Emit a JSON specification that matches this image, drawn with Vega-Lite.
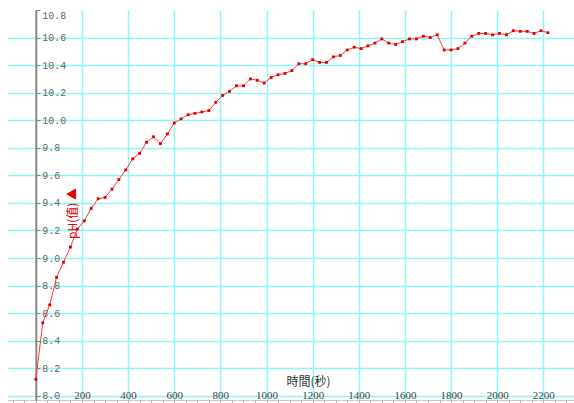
{
  "$schema": "https://vega.github.io/schema/vega-lite/v6.json",
  "width": 567,
  "height": 390,
  "autosize": {"type": "none"},
  "padding": {"left": 7, "top": 10, "right": 0, "bottom": 3},
  "background": "white",
  "config": {"view": {"stroke": null}},
  "data": {"values": [
    {"t": 0, "ph": 8.12}, {"t": 30, "ph": 8.53}, {"t": 60, "ph": 8.66}, {"t": 90, "ph": 8.86},
    {"t": 120, "ph": 8.97}, {"t": 150, "ph": 9.08}, {"t": 180, "ph": 9.21}, {"t": 210, "ph": 9.27},
    {"t": 240, "ph": 9.36}, {"t": 270, "ph": 9.43}, {"t": 300, "ph": 9.44}, {"t": 330, "ph": 9.50},
    {"t": 360, "ph": 9.57}, {"t": 390, "ph": 9.64}, {"t": 420, "ph": 9.72}, {"t": 450, "ph": 9.76},
    {"t": 480, "ph": 9.84}, {"t": 510, "ph": 9.88}, {"t": 540, "ph": 9.83}, {"t": 570, "ph": 9.90},
    {"t": 600, "ph": 9.98}, {"t": 630, "ph": 10.01}, {"t": 660, "ph": 10.04}, {"t": 690, "ph": 10.05},
    {"t": 720, "ph": 10.06}, {"t": 750, "ph": 10.07}, {"t": 780, "ph": 10.13}, {"t": 810, "ph": 10.18},
    {"t": 840, "ph": 10.21}, {"t": 870, "ph": 10.25}, {"t": 900, "ph": 10.25}, {"t": 930, "ph": 10.30},
    {"t": 960, "ph": 10.29}, {"t": 990, "ph": 10.27}, {"t": 1020, "ph": 10.31}, {"t": 1050, "ph": 10.33},
    {"t": 1080, "ph": 10.34}, {"t": 1110, "ph": 10.36}, {"t": 1140, "ph": 10.41}, {"t": 1170, "ph": 10.41},
    {"t": 1200, "ph": 10.44}, {"t": 1230, "ph": 10.42}, {"t": 1260, "ph": 10.42}, {"t": 1290, "ph": 10.46},
    {"t": 1320, "ph": 10.47}, {"t": 1350, "ph": 10.51}, {"t": 1380, "ph": 10.53}, {"t": 1410, "ph": 10.52},
    {"t": 1440, "ph": 10.54}, {"t": 1470, "ph": 10.56}, {"t": 1500, "ph": 10.59}, {"t": 1530, "ph": 10.56},
    {"t": 1560, "ph": 10.55}, {"t": 1590, "ph": 10.57}, {"t": 1620, "ph": 10.59}, {"t": 1650, "ph": 10.59},
    {"t": 1680, "ph": 10.61}, {"t": 1710, "ph": 10.60}, {"t": 1740, "ph": 10.62}, {"t": 1770, "ph": 10.51},
    {"t": 1800, "ph": 10.51}, {"t": 1830, "ph": 10.52}, {"t": 1860, "ph": 10.56}, {"t": 1890, "ph": 10.61},
    {"t": 1920, "ph": 10.63}, {"t": 1950, "ph": 10.63}, {"t": 1980, "ph": 10.62}, {"t": 2010, "ph": 10.63},
    {"t": 2040, "ph": 10.62}, {"t": 2070, "ph": 10.65}, {"t": 2100, "ph": 10.645}, {"t": 2130, "ph": 10.645},
    {"t": 2160, "ph": 10.63}, {"t": 2190, "ph": 10.65}, {"t": 2220, "ph": 10.635}
  ]},
  "encoding": {
    "x": {
      "field": "t", "type": "quantitative",
      "scale": {"domain": [-125, 2333], "nice": false, "zero": false},
      "axis": {
        "orient": "bottom",
        "values": [-100,-50,0,50,100,150,200,250,300,350,400,450,500,550,600,650,700,750,800,850,900,950,1000,1050,1100,1150,1200,1250,1300,1350,1400,1450,1500,1550,1600,1650,1700,1750,1800,1850,1900,1950,2000,2050,2100,2150,2200,2250,2300],
        "format": "d",
        "grid": true,
        "gridColor": "#8ef6f6",
        "gridWidth": 1.5,
        "gridOpacity": {"condition": {"test": "datum.value % 200 === 0 && datum.value > 0", "value": 1}, "value": 0},
        "domainColor": "#c8c8c8",
        "domainWidth": 1,
        "tickColor": "#aaaaaa",
        "tickSize": 3,
        "labelExpr": "datum.value % 200 === 0 && datum.value > 0 ? datum.label : ''",
        "labelBaseline": "bottom",
        "labelPadding": -3,
        "labelFont": "Liberation Serif",
        "labelFontSize": 11,
        "labelColor": "#444444",
        "labelFlush": false,
        "labelOverlap": false,
        "title": "時間(秒)",
        "titleFont": "Noto Sans CJK TC",
        "titleFontSize": 12,
        "titleFontWeight": "normal",
        "titleColor": "#333333",
        "titleX": 301,
        "titleY": -19,
        "titleAlign": "center",
        "titleBaseline": "middle"
      }
    },
    "y": {
      "field": "ph", "type": "quantitative",
      "scale": {"domain": [7.97, 10.8], "nice": false, "zero": false},
      "axis": {
        "orient": "right",
        "offset": -538.2,
        "values": [8.0, 8.2, 8.4, 8.6, 8.8, 9.0, 9.2, 9.4, 9.6, 9.8, 10.0, 10.2, 10.4, 10.6, 10.8],
        "format": ".1f",
        "grid": true,
        "gridColor": "#8ef6f6",
        "gridWidth": 1.5,
        "gridOpacity": {"condition": {"test": "datum.value > 10.79", "value": 0}, "value": 1},
        "domainColor": "#888888",
        "domainWidth": 2,
        "tickColor": "#888888",
        "tickSize": 4,
        "labelPadding": 2,
        "labelFont": "Liberation Mono",
        "labelFontSize": 10,
        "labelColor": "#666666",
        "labelFlush": true,
        "labelOverlap": false,
        "title": "pH(值) ▲",
        "titleColor": "#e00000",
        "titleFont": "Noto Sans CJK TC",
        "titleFontSize": 12,
        "titleFontWeight": "normal",
        "titleAngle": 270,
        "titleX": 37,
        "titleY": 203,
        "titleAlign": "center",
        "titleBaseline": "middle"
      }
    }
  },
  "layer": [
    {"mark": {"type": "line", "color": "#ff3838", "strokeWidth": 1}},
    {"mark": {"type": "point", "shape": "square", "filled": true, "size": 8, "color": "#e00000", "opacity": 1}}
  ]
}
